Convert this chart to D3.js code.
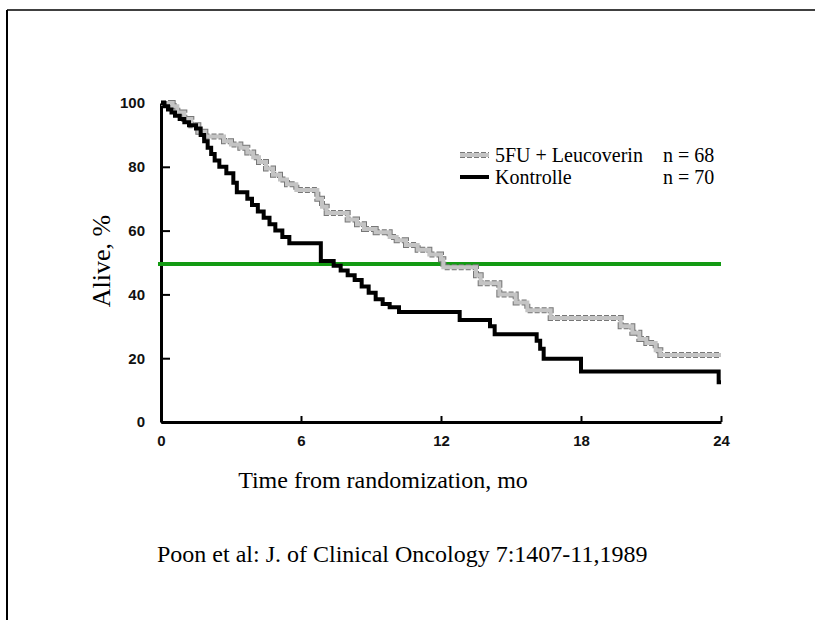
<!DOCTYPE html>
<html lang="en">
<head>
  <meta charset="UTF-8">
  <title>Alive, % - 5FU + Leucoverin vs Kontrolle</title>
  <script src="https://d3js.org/d3.v7.min.js"></script>
  <style>
    body { margin: 0; background: #fff; }
    svg { display: block; }
  </style>
</head>
<body>
  <svg id="chart"></svg>

  <script>
    // canvas
    const width = 815;
    const height = 620;
    const serif = "'Liberation Serif', 'Times New Roman', Times, 'DejaVu Serif', serif";

    // data (months, % alive)
    const treatmentSteps = [
      [0, 100], [0.5, 99], [0.7, 97], [1.0, 95], [1.3, 93], [1.6, 91], [1.9, 89.5],
      [2.7, 88], [3.0, 87], [3.4, 86], [3.7, 84.5], [3.95, 83], [4.2, 81.5], [4.5, 79.5],
      [4.8, 77.5], [5.1, 76], [5.4, 74.5], [5.8, 72.7], [6.7, 70], [6.9, 67.5], [7.1, 65.5],
      [8.0, 63.5], [8.4, 62], [8.7, 60.5], [9.2, 59.5], [9.8, 58], [10.1, 57], [10.5, 55.5],
      [11.0, 54], [11.5, 52.5], [12.0, 51], [12.1, 48.5], [13.5, 46], [13.7, 43.5],
      [14.5, 40], [15.2, 37.5], [15.7, 35], [16.7, 32.6], [19.7, 30], [20.2, 28],
      [20.5, 26], [20.8, 24.8], [21.2, 22.5], [21.4, 21], [24, 21]
    ];
    const controlSteps = [
      [0, 100], [0.15, 99], [0.3, 98], [0.45, 97], [0.6, 96], [0.8, 95], [1.0, 94],
      [1.2, 93], [1.5, 92], [1.7, 90], [1.85, 88], [2.0, 86], [2.15, 84], [2.3, 82],
      [2.5, 80], [2.8, 78], [3.1, 75], [3.25, 72], [3.7, 70], [3.9, 68], [4.15, 66],
      [4.4, 64], [4.65, 62], [4.9, 60], [5.2, 58], [5.5, 56], [6.85, 50.5], [7.4, 49],
      [7.7, 47.5], [8.0, 46], [8.3, 44.5], [8.6, 42.5], [8.9, 40.5], [9.2, 38.5],
      [9.5, 37], [9.8, 36], [10.2, 34.5], [12.8, 32], [14.1, 30], [14.3, 27.5],
      [16.1, 25.5], [16.25, 23], [16.4, 19.8], [18.0, 15.8], [23.9, 12.5], [24, 12.5]
    ];
    const medianLine = 49.5;

    const xTicks = [0, 6, 12, 18, 24];
    const yTicks = [0, 20, 40, 60, 80, 100];

    const legendItems = [
      { label: "5FU + Leucoverin", n: "n = 68", type: "treatment" },
      { label: "Kontrolle", n: "n = 70", type: "control" }
    ];

    const svg = d3.select("#chart")
      .attr("width", width)
      .attr("height", height);

    // slide frame (top and left edges only)
    svg.append("line").attr("x1", 7).attr("y1", 10).attr("x2", width).attr("y2", 10)
      .attr("stroke", "#000").attr("stroke-width", 1.5);
    svg.append("line").attr("x1", 7).attr("y1", 10).attr("x2", 7).attr("y2", height)
      .attr("stroke", "#000").attr("stroke-width", 2);

    // scales
    const x = d3.scaleLinear().domain([0, 24]).range([161, 721]);
    const y = d3.scaleLinear().domain([0, 100]).range([422, 103]);

    const line = d3.line()
      .x(d => x(d[0]))
      .y(d => y(d[1]))
      .curve(d3.curveStepAfter);

    // axes
    const yAxis = svg.append("g")
      .attr("transform", `translate(${x(0)},0)`)
      .call(d3.axisLeft(y).tickValues(yTicks).tickSize(-9).tickSizeOuter(0).tickPadding(16));
    const xAxis = svg.append("g")
      .attr("transform", `translate(0,${y(0)})`)
      .call(d3.axisBottom(x).tickValues(xTicks).tickSize(-6).tickSizeOuter(0).tickPadding(13));

    [xAxis, yAxis].forEach(g => {
      g.select(".domain").attr("stroke", "#000").attr("stroke-width", 3);
      g.selectAll(".tick line").attr("stroke", "#000").attr("stroke-width", 2);
      g.selectAll(".tick text")
        .attr("fill", "#111")
        .style("font-family", "'Liberation Sans', Arial, sans-serif")
        .style("font-weight", "bold")
        .style("font-size", "15px");
    });

    // median reference line
    svg.append("line")
      .attr("x1", x(0) - 3).attr("x2", x(24))
      .attr("y1", y(medianLine)).attr("y2", y(medianLine))
      .attr("stroke", "#139a13").attr("stroke-width", 4);

    // treatment curve: grey band with dotted dark edge
    function drawTreatment(g, d) {
      g.append("path").attr("d", d).attr("fill", "none")
        .attr("stroke", "#777").attr("stroke-width", 6)
        .attr("stroke-dasharray", "5,2");
      g.append("path").attr("d", d).attr("fill", "none")
        .attr("stroke", "#c4c4c4").attr("stroke-width", 4);
    }
    drawTreatment(svg.append("g"), line(treatmentSteps));

    // control curve
    svg.append("path")
      .attr("d", line(controlSteps))
      .attr("fill", "none")
      .attr("stroke", "#000")
      .attr("stroke-width", 4);

    // legend
    const legend = svg.append("g").attr("transform", "translate(460,155)");
    legendItems.forEach((item, i) => {
      const row = legend.append("g").attr("transform", `translate(0,${i * 22})`);
      const sample = `M0,0H29`;
      if (item.type === "treatment") {
        drawTreatment(row, sample);
      } else {
        row.append("path").attr("d", sample).attr("stroke", "#000").attr("stroke-width", 4);
      }
      row.append("text").attr("x", 35).attr("y", 7)
        .style("font-family", serif)
        .style("font-size", "20px")
        .text(item.label);
      row.append("text").attr("x", 203).attr("y", 7)
        .style("font-family", serif)
        .style("font-size", "20px")
        .text(item.n);
    });

    // axis titles
    svg.append("text")
      .attr("transform", "translate(110,261) rotate(-90)")
      .attr("text-anchor", "middle")
      .style("font-family", serif)
      .style("font-size", "26px")
      .text("Alive, %");

    svg.append("text")
      .attr("x", 383).attr("y", 488)
      .attr("text-anchor", "middle")
      .style("font-family", serif)
      .style("font-size", "24px")
      .text("Time from randomization, mo");

    // citation
    svg.append("text")
      .attr("x", 157).attr("y", 562)
      .style("font-family", serif)
      .style("font-size", "24px")
      .text("Poon et al: J. of Clinical Oncology 7:1407-11,1989");
  </script>
</body>
</html>
